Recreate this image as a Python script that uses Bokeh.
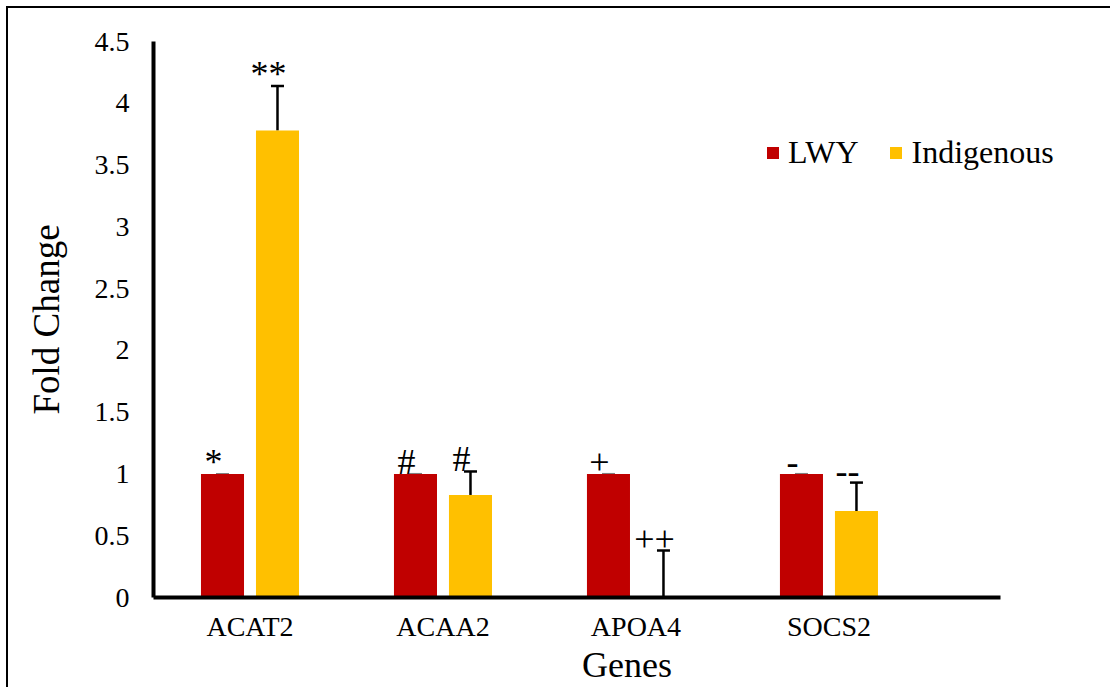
from bokeh.plotting import figure
from bokeh.models import (Range1d, ColumnDataSource, Whisker, TeeHead, FixedTicker,
                          Legend, LegendItem)
from bokeh.core.properties import value
from bokeh.embed import file_html
from bokeh.resources import INLINE

# ---- data ----
genes = ["ACAT2", "ACAA2", "APOA4", "SOCS2"]
lwy = [1.0, 1.0, 1.0, 1.0]
lwy_err = [0.0, 0.0, 0.0, 0.0]
indigenous = [3.78, 0.83, 0.0, 0.70]
indigenous_err = [0.36, 0.19, 0.38, 0.23]
lwy_marks = ["*", "#", "+", "-"]
indigenous_marks = ["**", "#", "++", "--"]
y_ticks = [0, 0.5, 1, 1.5, 2, 2.5, 3, 3.5, 4, 4.5]
y_tick_labels = ["0", "0.5", "1", "1.5", "2", "2.5", "3", "3.5", "4", "4.5"]

FONT = "Liberation Serif"
RED = "#C00000"
GOLD = "#FFC000"
OFF = 0.1425          # bar offset from category centre (category units)
BW = 0.223            # bar width (category units)
X_END = 4.907         # visible x extent of the frame (category units)
AXIS_END = 4.39       # where the drawn x axis line stops

centers = [i + 0.5 for i in range(len(genes))]
src_l = ColumnDataSource(dict(
    x=[c - OFF for c in centers], top=lwy,
    upper=[v + e for v, e in zip(lwy, lwy_err)], lower=lwy, mark=lwy_marks))
src_i = ColumnDataSource(dict(
    x=[c + OFF for c in centers], top=indigenous,
    upper=[v + e for v, e in zip(indigenous, indigenous_err)], lower=indigenous,
    mark=indigenous_marks))

p = figure(width=1104, height=681, x_range=Range1d(0, X_END),
           y_range=Range1d(0, 4.5), output_backend="svg", toolbar_location=None,
           min_border_left=145, min_border_top=33, min_border_right=12,
           min_border_bottom=92)
p.styles = {"margin-left": "6px", "margin-top": "6px",
            "border-left": "2px solid black", "border-top": "2px solid black"}
p.outline_line_color = None
p.xgrid.visible = False
p.ygrid.visible = False
p.background_fill_color = "white"
p.border_fill_color = "white"

r1 = p.vbar(x="x", top="top", width=BW, source=src_l, fill_color=RED, line_color=None)
r2 = p.vbar(x="x", top="top", width=BW, source=src_i, fill_color=GOLD, line_color=None)

w1 = Whisker(source=src_l, base="x", upper="upper", lower="lower", dimension="height",
             line_color="#808080", line_width=2,
             upper_head=TeeHead(size=13, line_width=2, line_color="#808080"), lower_head=None)
w2 = Whisker(source=src_i, base="x", upper="upper", lower="lower", dimension="height",
             line_color="black", line_width=2.5,
             upper_head=TeeHead(size=13, line_width=2.5, line_color="black"), lower_head=None)
p.add_layout(w1)
p.add_layout(w2)

for src in (src_l, src_i):
    p.text(x="x", y="upper", text="mark", source=src, text_font=value(FONT),
           text_font_size="36px", text_align="center", text_baseline="alphabetic",
           x_offset=-9, y_offset=-12, text_color="black")

# axes
p.xaxis.ticker = FixedTicker(ticks=centers)
p.xaxis.major_label_overrides = {c: g for c, g in zip(centers, genes)}
p.xaxis.bounds = (0, AXIS_END)
p.yaxis.ticker = FixedTicker(ticks=y_ticks)
p.yaxis.major_label_overrides = {t: l for t, l in zip(y_ticks, y_tick_labels)}
for ax in (p.xaxis[0], p.yaxis[0]):
    ax.axis_line_width = 4
    ax.axis_line_color = "black"
    ax.major_tick_line_color = None
    ax.minor_tick_line_color = None
    ax.major_label_text_font = FONT
    ax.major_label_text_font_size = "28px"
    ax.major_label_text_color = "black"
    ax.axis_label_text_font = FONT
    ax.axis_label_text_font_style = "normal"
    ax.axis_label_text_color = "black"
p.xaxis.axis_label = "Genes"
p.yaxis.axis_label = "Fold Change"
p.xaxis.axis_label_text_font_size = "36px"
p.yaxis.axis_label_text_font_size = "37px"
p.xaxis.major_label_standoff = 7
p.xaxis.axis_label_standoff = 0
p.yaxis.major_label_standoff = 18
p.yaxis.axis_label_standoff = 25

legend = Legend(items=[LegendItem(label="LWY", renderers=[r1]),
                       LegendItem(label="Indigenous", renderers=[r2])],
                orientation="horizontal", location=(612, 426))
legend.glyph_width = 15
legend.glyph_height = 15
legend.label_standoff = 8
legend.spacing = 30
legend.padding = 0
legend.margin = 0
legend.border_line_color = None
legend.background_fill_alpha = 0
legend.label_text_font = FONT
legend.label_text_font_size = "32px"
legend.label_text_color = "black"
p.add_layout(legend)

open("out.html", "w").write(file_html(p, INLINE))
